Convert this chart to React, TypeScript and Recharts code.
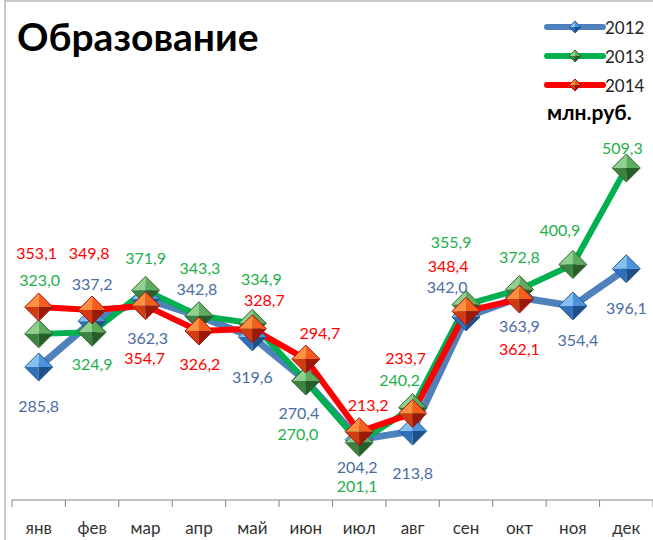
import { LineChart, Line, XAxis, YAxis, LabelList } from 'recharts';

const months = ['янв', 'фев', 'мар', 'апр', 'май', 'июн', 'июл', 'авг', 'сен', 'окт', 'ноя', 'дек'];
const values2012 = [285.8, 337.2, 362.3, 342.8, 319.6, 270.4, 204.2, 213.8, 342.0, 363.9, 354.4, 396.1];
const values2013 = [323.0, 324.9, 371.9, 343.3, 334.9, 270.0, 201.1, 240.2, 355.9, 372.8, 400.9, 509.3];
const values2014 = [353.1, 349.8, 354.7, 326.2, 328.7, 294.7, 213.2, 233.7, 348.4, 362.1];
const seriesNames = ['2012', '2013', '2014'];

// label placement around each marker [dx, dy]
const offsets2012 = [[0, 39], [0, -38], [2, 39], [-2, -28], [0, 40], [-7, 32], [-2, 27], [0, 41], [-19, -30], [0, 28], [5, 34], [0, 39]];
const offsets2013 = [[1, -54], [0, 31], [0, -33], [1, -48], [9, -45], [-8, 52], [-2, 43], [-13, -28], [-15, -63], [0, -33], [-13, -35], [-4, -21]];
const offsets2014 = [[-2, -55], [-3, -58], [-1, 52], [1, 32], [12, -29], [14, -27], [9, -27], [-7, -56], [-18, -46], [0, 49]];

const W = 653;
const H = 540;
const PLOT_LEFT = 12;
const STEP = (W - PLOT_LEFT) / months.length;
const FONT = "Lato, 'Noto Sans', sans-serif";

const palettes = {
  blue: { line: '#4F81BD', label: '#4B6CA6', faces: ['#86c0f0', '#4b93dc', '#2f70b8', '#1d4f88'], edge: '#2a5a90' },
  green: { line: '#00B050', label: '#22B04B', faces: ['#8fd08f', '#5eab5e', '#3f813f', '#285c28'], edge: '#2d6a2d' },
  red: { line: '#FF0000', label: '#FF0000', faces: ['#ff9040', '#f4601c', '#d33c10', '#9a1a0a'], edge: '#a81010' },
};

const data = months.map((m, i) => ({
  month: m,
  y2012: values2012[i],
  y2013: values2013[i],
  y2014: values2014[i] ?? null,
}));

const fmt = (v: number) => v.toFixed(1).replace('.', ',');

function Diamond({ cx, cy, r, p }: any) {
  const T = `${cx},${cy - r}`;
  const R = `${cx + r},${cy}`;
  const B = `${cx},${cy + r}`;
  const L = `${cx - r},${cy}`;
  const C = `${cx},${cy}`;
  return (
    <g>
      <polygon points={`${L} ${T} ${C}`} fill={p.faces[0]} />
      <polygon points={`${T} ${R} ${C}`} fill={p.faces[1]} />
      <polygon points={`${L} ${B} ${C}`} fill={p.faces[2]} />
      <polygon points={`${R} ${B} ${C}`} fill={p.faces[3]} />
      <polygon points={`${T} ${R} ${B} ${L}`} fill="none" stroke={p.edge} strokeWidth={1} />
    </g>
  );
}

const makeDot = (p: any) => (props: any) => {
  const { cx, cy, index, value } = props;
  if (value == null || cx == null || cy == null) return <g key={`e-${index}`} />;
  return <Diamond key={`d-${index}`} cx={cx} cy={cy} r={14} p={p} />;
};

const makeLabel = (offsets: number[][], color: string) => (props: any) => {
  const { value, index } = props;
  const x = props.x ?? props.viewBox?.x;
  const y = props.y ?? props.viewBox?.y;
  if (value == null || x == null || y == null) return null;
  const [dx, dy] = offsets[index];
  return (
    <text x={x + dx} y={y + dy} textAnchor="middle" dominantBaseline="central" fill={color} fontSize={16} fontFamily={FONT}>
      {fmt(value)}
    </text>
  );
};

const MonthTick = ({ x, y, payload, index }: any) => (
  <g>
    <line x1={x - STEP / 2} x2={x - STEP / 2} y1={y} y2={y + 7} stroke="#868686" />
    {index === months.length - 1 && <line x1={x + STEP / 2} x2={x + STEP / 2} y1={y} y2={y + 7} stroke="#868686" />}
    <text x={x} y={y + 27} textAnchor="middle" dominantBaseline="central" fill="#333" fontSize={17} fontFamily={FONT}>
      {payload.value}
    </text>
  </g>
);

export default function App() {
  const series = [
    { key: 'y2012', p: palettes.blue, width: 7, offsets: offsets2012 },
    { key: 'y2013', p: palettes.green, width: 6, offsets: offsets2013 },
    { key: 'y2014', p: palettes.red, width: 6, offsets: offsets2014 },
  ];

  return (
    <div style={{ position: 'absolute', left: 0, top: 0, width: W, height: H, background: '#fff', overflow: 'hidden' }}>
      <div style={{ position: 'absolute', left: 4, top: 0, width: W, height: H, borderLeft: '2px solid #c8c8c8', borderTop: '2px solid #c8c8c8' }} />
      <LineChart width={W} height={H} data={data} margin={{ top: 130, right: 0, left: PLOT_LEFT, bottom: 0 }}>
        <XAxis
          dataKey="month"
          height={40}
          tickLine={false}
          tickSize={0}
          tickMargin={0}
          interval={0}
          padding={{ left: STEP / 2, right: STEP / 2 }}
          stroke="#868686"
          tick={<MonthTick />}
        />
        <YAxis hide domain={[136.4, 552]} />
        {series.map((s) => (
          <Line
            key={s.key}
            dataKey={s.key}
            type="linear"
            stroke={s.p.line}
            strokeWidth={s.width}
            strokeLinejoin="round"
            dot={makeDot(s.p)}
            activeDot={false}
            isAnimationActive={false}
          >
            <LabelList dataKey={s.key} content={makeLabel(s.offsets, s.p.label)} />
          </Line>
        ))}
      </LineChart>
      <svg width={W} height={H} style={{ position: 'absolute', left: 0, top: 0, pointerEvents: 'none' }}>
        <text x={17} y={51} fontFamily={FONT} fontWeight={700} fontSize={39} fill="#000">Образование</text>
        {seriesNames.map((n, i) => {
          const p = [palettes.blue, palettes.green, palettes.red][i];
          const cy = 27 + i * 29;
          return (
            <g key={n}>
              <line x1={547} x2={603} y1={cy} y2={cy} stroke={p.line} strokeWidth={6} strokeLinecap="round" />
              <Diamond cx={575} cy={cy} r={6} p={p} />
              <text x={605} y={cy} dominantBaseline="central" fontFamily={FONT} fontSize={17} fill="#222">{n}</text>
            </g>
          );
        })}
        <text x={547} y={111} dominantBaseline="central" fontFamily={FONT} fontWeight={700} fontSize={21} fill="#000">млн.руб.</text>
      </svg>
    </div>
  );
}
